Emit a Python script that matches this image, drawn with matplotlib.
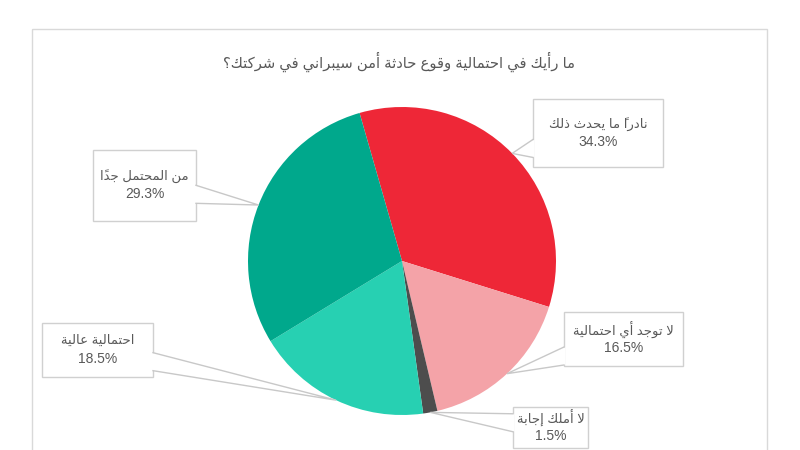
import numpy as np
import matplotlib
matplotlib.use("Agg")
import matplotlib.pyplot as plt
from matplotlib.patches import Rectangle, Polygon

# ── Data ─────────────────────────────────────────────────────────────────────
title = "ما رأيك في احتمالية وقوع حادثة أمن سيبراني في شركتك؟"
categories = ["نادراً ما يحدث ذلك", "لا توجد أي احتمالية", "لا أملك إجابة",
              "احتمالية عالية", "من المحتمل جدًا"]
values = [34.3, 16.5, 1.5, 18.5, 29.3]
colors = ["#EE2737", "#F4A3A8", "#4D4D4D", "#27D0B2", "#00A88C"]

# ── Minimal Arabic shaping (no bidi/shaping engine in matplotlib) ───────────
FORMS = {  # iso, fin, ini, med
    "ا": (0xFE8D, 0xFE8E), "أ": (0xFE83, 0xFE84), "إ": (0xFE87, 0xFE88),
    "ب": (0xFE8F, 0xFE90, 0xFE91, 0xFE92), "ة": (0xFE93, 0xFE94),
    "ت": (0xFE95, 0xFE96, 0xFE97, 0xFE98), "ث": (0xFE99, 0xFE9A, 0xFE9B, 0xFE9C),
    "ج": (0xFE9D, 0xFE9E, 0xFE9F, 0xFEA0), "ح": (0xFEA1, 0xFEA2, 0xFEA3, 0xFEA4),
    "د": (0xFEA9, 0xFEAA), "ذ": (0xFEAB, 0xFEAC), "ر": (0xFEAD, 0xFEAE),
    "س": (0xFEB1, 0xFEB2, 0xFEB3, 0xFEB4), "ش": (0xFEB5, 0xFEB6, 0xFEB7, 0xFEB8),
    "ع": (0xFEC9, 0xFECA, 0xFECB, 0xFECC), "ف": (0xFED1, 0xFED2, 0xFED3, 0xFED4),
    "ق": (0xFED5, 0xFED6, 0xFED7, 0xFED8), "ك": (0xFED9, 0xFEDA, 0xFEDB, 0xFEDC),
    "ل": (0xFEDD, 0xFEDE, 0xFEDF, 0xFEE0), "م": (0xFEE1, 0xFEE2, 0xFEE3, 0xFEE4),
    "ن": (0xFEE5, 0xFEE6, 0xFEE7, 0xFEE8), "و": (0xFEED, 0xFEEE),
    "ي": (0xFEF1, 0xFEF2, 0xFEF3, 0xFEF4),
}
LAM_ALEF = {"ا": (0xFEFB, 0xFEFC), "أ": (0xFEF7, 0xFEF8), "إ": (0xFEF9, 0xFEFA)}
MARKS = set("\u064B\u064C\u064D\u064E\u064F\u0650\u0651\u0652")


def shape(s):
    # group into clusters: base + marks, merging lam-alef
    units = []
    i = 0
    while i < len(s):
        ch = s[i]
        if ch == "ل" and i + 1 < len(s) and s[i + 1] in LAM_ALEF:
            units.append([("LA", s[i + 1]), ""])
            i += 2
            continue
        if ch in MARKS and units:
            units[-1][1] += ch
        else:
            units.append([ch, ""])
        i += 1

    def dual(u):
        return isinstance(u, str) and u in FORMS and len(FORMS[u]) == 4

    def joining(u):
        return isinstance(u, tuple) or u in FORMS

    out = []
    for k, (u, marks) in enumerate(units):
        prev = units[k - 1][0] if k > 0 else None
        nxt = units[k + 1][0] if k + 1 < len(units) else None
        jp = prev is not None and dual(prev) and joining(u)
        if isinstance(u, tuple):
            g = chr(LAM_ALEF[u[1]][1 if jp else 0])
        elif u in FORMS:
            f = FORMS[u]
            jn = len(f) == 4 and nxt is not None and joining(nxt)
            if jp and jn:
                g = chr(f[3])
            elif jn:
                g = chr(f[2])
            elif jp:
                g = chr(f[1])
            else:
                g = chr(f[0])
        else:
            g = u
        # mark glyph sits over the glyph that follows it when laid out LTR
        out.append(marks + g)
    return "".join(reversed(out))


FAMILY = ["Liberation Sans", "DejaVu Sans"]
TXT = "#595959"

# ── Figure ───────────────────────────────────────────────────────────────────
fig = plt.figure(figsize=(8, 4.5), dpi=100, facecolor="white")
W, H = 800, 450

# pie axes: centre (402, 261) px, radius 154 px
cx, cy, r = 402, 261, 154
ax = fig.add_axes([(cx - r) / W, (H - cy - r) / H, 2 * r / W, 2 * r / H])
wedges, _ = ax.pie(values, colors=colors, startangle=106, counterclock=False,
                   radius=1, wedgeprops=dict(linewidth=0))
ax.set_xlim(-1, 1)
ax.set_ylim(-1, 1)
ax.set_aspect("equal")

# overlay in image pixel coordinates
ov = fig.add_axes([0, 0, 1, 1], zorder=5)
ov.set_xlim(0, W)
ov.set_ylim(H, 0)
ov.axis("off")
ov.patch.set_alpha(0)

# chart frame
ov.add_patch(Rectangle((32, 29), 735, 440, facecolor="none",
                       edgecolor="#D9D9D9", linewidth=1, zorder=1))

ov.text(399, 62, shape(title), ha="center", va="center", fontsize=10.6,
        color=TXT, family=FAMILY)

# label boxes (x0, y0, x1, y1) in image pixels, same order as categories
boxes = [(533, 99, 663, 167), (564, 312, 683, 366), (513, 407, 588, 448),
         (42, 323, 153, 377), (93, 150, 196, 221)]

fig.canvas.draw()
for w, lab, val, (x0, y0, x1, y1) in zip(wedges, categories, values, boxes):
    mid = np.deg2rad((w.theta1 + w.theta2) / 2)
    tx, ty = ax.transData.transform((np.cos(mid), np.sin(mid)))
    ty = H - ty
    bx, by = (x0 + x1) / 2, (y0 + y1) / 2

    ov.add_patch(Rectangle((x0, y0), x1 - x0, y1 - y0, facecolor="white",
                           edgecolor="#D0D0D0", linewidth=1, zorder=2))

    # pointer base on box edge facing the tip
    dx, dy = tx - bx, ty - by
    hw, hh = (x1 - x0) / 2, (y1 - y0) / 2
    half = 9
    if abs(dx) * hh >= abs(dy) * hw:
        ex = x1 if dx > 0 else x0
        ey = by + dy * (hw / abs(dx))
        ey = min(max(ey, y0 + half + 1), y1 - half - 1)
        p1, p2 = (ex, ey - half), (ex, ey + half)
        inset = (-1.5 if dx > 0 else 1.5, 0)
    else:
        ey = y1 if dy > 0 else y0
        ex = bx + dx * (hh / abs(dy))
        ex = min(max(ex, x0 + half + 1), x1 - half - 1)
        p1, p2 = (ex - half, ey), (ex + half, ey)
        inset = (0, -1.5 if dy > 0 else 1.5)
    ov.add_patch(Polygon([(p1[0] + inset[0], p1[1] + inset[1]), (tx, ty),
                          (p2[0] + inset[0], p2[1] + inset[1])],
                         closed=True, facecolor="white", edgecolor="none",
                         zorder=3))
    ov.plot([p1[0], tx, p2[0]], [p1[1], ty, p2[1]], color="#C8C8C8",
            linewidth=1, zorder=4, solid_joinstyle="miter")

    ov.text(bx, by - 9, shape(lab), ha="center", va="center", fontsize=9.5,
            color=TXT, family=FAMILY, zorder=6)
    ov.text(bx, by + 9, f"{val:.1f}%", ha="center", va="center", fontsize=10,
            color=TXT, family=FAMILY, zorder=6)

fig.savefig("out.png", dpi=100, facecolor="white")
